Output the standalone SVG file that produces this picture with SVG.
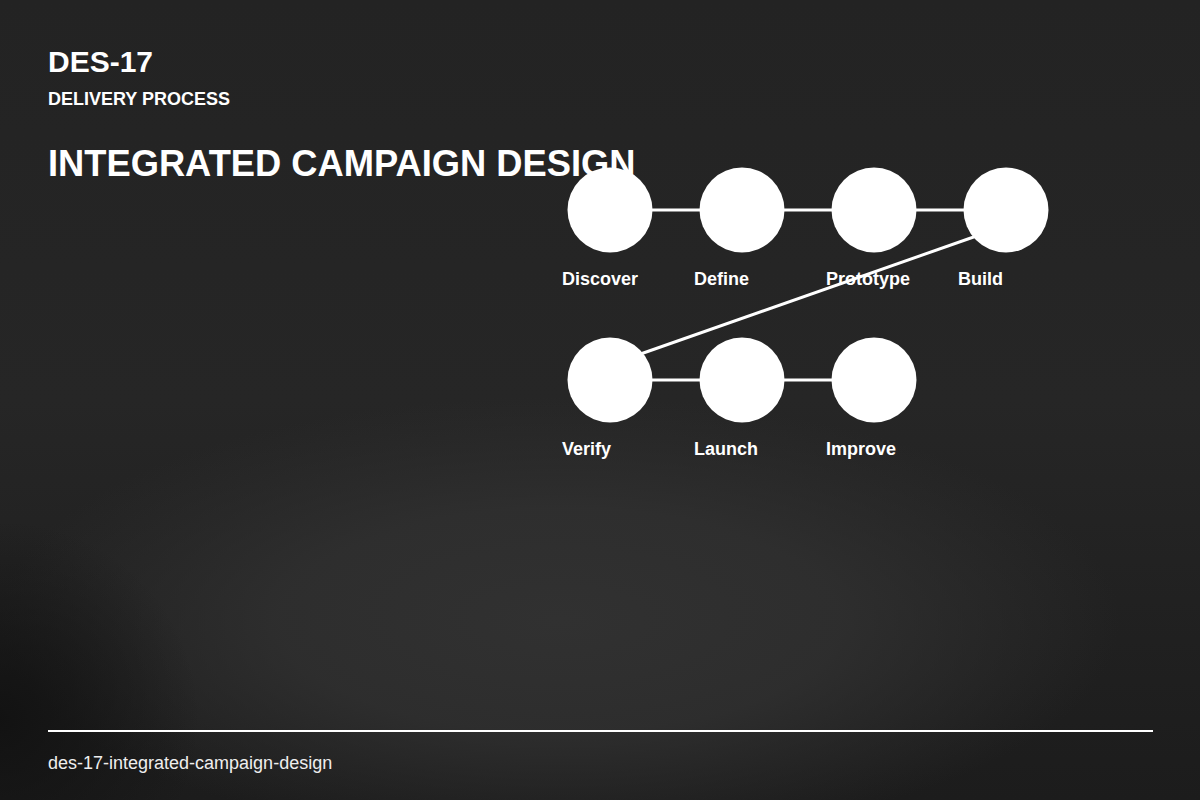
<svg xmlns="http://www.w3.org/2000/svg" width="1200" height="800" viewBox="0 0 1200 800">
<defs>
<linearGradient id="bg" x1="0" y1="0" x2="0" y2="1">
<stop offset="0" stop-color="#232323"/>
<stop offset="0.5" stop-color="#262626"/>
<stop offset="1" stop-color="#1c1c1c"/>
</linearGradient>
<radialGradient id="glow" cx="560" cy="620" r="560" gradientUnits="userSpaceOnUse" gradientTransform="translate(560 620) scale(1 0.4) translate(-560 -620)">
<stop offset="0" stop-color="#313131" stop-opacity="1"/>
<stop offset="0.5" stop-color="#303030" stop-opacity="0.85"/>
<stop offset="1" stop-color="#303030" stop-opacity="0"/>
</radialGradient>
<radialGradient id="dark" cx="0" cy="720" r="200" gradientUnits="userSpaceOnUse">
<stop offset="0" stop-color="#111111" stop-opacity="0.9"/>
<stop offset="1" stop-color="#111111" stop-opacity="0"/>
</radialGradient>
<style>
.node{fill:#ffffff;}
.lbl{font-family:"Liberation Sans",Arial,sans-serif;font-weight:bold;font-size:18px;fill:#ffffff;}
.edge{stroke:#ffffff;stroke-width:3;fill:none;}
</style>
</defs>
<rect width="1200" height="800" fill="url(#bg)"/>
<rect width="1200" height="800" fill="url(#glow)"/>
<rect width="1200" height="800" fill="url(#dark)"/>
<text x="48" y="72" font-family="Liberation Sans,Arial,sans-serif" font-weight="bold" font-size="30" fill="#ffffff">DES-17</text>
<text x="48" y="105" font-family="Liberation Sans,Arial,sans-serif" font-weight="bold" font-size="18" fill="#ffffff">DELIVERY PROCESS</text>
<text x="48" y="176" font-family="Liberation Sans,Arial,sans-serif" font-weight="bold" font-size="36.3" fill="#ffffff">INTEGRATED CAMPAIGN DESIGN</text>
<g id="connectors">
<line class="edge" x1="610" y1="210" x2="742" y2="210"/>
<line class="edge" x1="742" y1="210" x2="874" y2="210"/>
<line class="edge" x1="874" y1="210" x2="1006" y2="210"/>
<line class="edge" x1="985" y1="233" x2="632" y2="357" stroke-width="2"/>
<line class="edge" x1="610" y1="380" x2="742" y2="380"/>
<line class="edge" x1="742" y1="380" x2="874" y2="380"/>
</g>
<g id="n-discover"><circle class="node" cx="610" cy="210" r="42.5"/><text class="lbl" x="562" y="285">Discover</text></g>
<g id="n-define"><circle class="node" cx="742" cy="210" r="42.5"/><text class="lbl" x="694" y="285">Define</text></g>
<g id="n-prototype"><circle class="node" cx="874" cy="210" r="42.5"/><text class="lbl" x="826" y="285">Prototype</text></g>
<g id="n-build"><circle class="node" cx="1006" cy="210" r="42.5"/><text class="lbl" x="958" y="285">Build</text></g>
<g id="n-verify"><circle class="node" cx="610" cy="380" r="42.5"/><text class="lbl" x="562" y="455">Verify</text></g>
<g id="n-launch"><circle class="node" cx="742" cy="380" r="42.5"/><text class="lbl" x="694" y="455">Launch</text></g>
<g id="n-improve"><circle class="node" cx="874" cy="380" r="42.5"/><text class="lbl" x="826" y="455">Improve</text></g>
<line x1="48" y1="731" x2="1153" y2="731" stroke="#ffffff" stroke-width="2"/>
<text x="48" y="769" font-family="Liberation Sans,Arial,sans-serif" font-size="18" fill="#eeeeee">des-17-integrated-campaign-design</text>
</svg>
